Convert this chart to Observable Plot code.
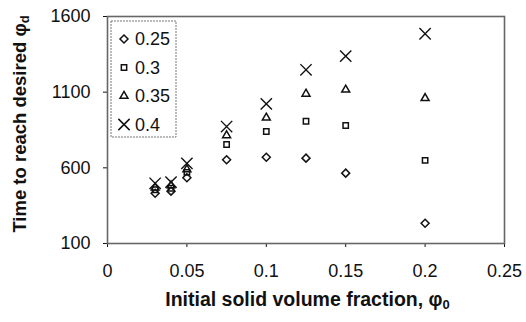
<!DOCTYPE html>
<html>
<head>
<meta charset="utf-8">
<script src="https://cdn.jsdelivr.net/npm/d3@7"></script>
<script src="https://cdn.jsdelivr.net/npm/@observablehq/plot@0.6"></script>
<style>
  html, body { margin: 0; padding: 0; background: #fff; }
  svg { font-family: "Liberation Sans", Arial, sans-serif; }
</style>
</head>
<body>
<div id="chart"></div>
<script>
// Data
const phi0 = [0.03, 0.04, 0.05, 0.075, 0.1, 0.125, 0.15, 0.2];
const seriesNames = ["0.25", "0.3", "0.35", "0.4"];
const s025 = [432, 446, 535, 653, 670, 664, 565, 234];
const s03  = [455, 465, 570, 754, 840, 908, 880, 649];
const s035 = [468, 483, 590, 814, 931, 1089, 1116, 1060];
const s04  = [498, 505, 630, 873, 1023, 1248, 1338, 1486];
const xTicks = [0, 0.05, 0.1, 0.15, 0.2, 0.25];
const yTicks = [100, 600, 1100, 1600];

const allSeries = [s025, s03, s035, s04];
const symbols = ["diamond2", "square2", "triangle2", "times"];
const radii = [3.6, 3.4, 3.8, 5.2];

const rows = [];
allSeries.forEach((vals, si) => vals.forEach((v, i) => rows.push({x: phi0[i], y: v, s: seriesNames[si]})));

const W = 526, H = 322;
const mL = 107, mR = 22, mT = 16, mB = 79;

const plot = Plot.plot({
  width: W, height: H,
  marginLeft: mL, marginRight: mR, marginTop: mT, marginBottom: mB,
  style: {fontFamily: "Liberation Sans, Arial, sans-serif", fontSize: "18px", color: "#111", background: "#fff"},
  x: {domain: [0, 0.25], ticks: xTicks, tickFormat: d => String(d), tickSize: 4, tickPadding: 17, label: null},
  y: {domain: [100, 1600], ticks: yTicks, tickFormat: d => String(d), tickSize: 4, tickPadding: 13, label: null},
  symbol: {domain: seriesNames, range: symbols},
  marks: [
    Plot.frame({stroke: "#666", strokeWidth: 1.6}),
    ...seriesNames.map((name, si) =>
      Plot.dot(rows.filter(d => d.s === name), {
        x: "x", y: "y", symbol: "s", r: radii[si],
        stroke: "#111", strokeWidth: si === 3 ? 1.4 : 1.5, fill: "none"
      })
    )
  ]
});

document.getElementById("chart").appendChild(plot);

// Titles and legend added to the same SVG
const svg = d3.select(plot);

// X-axis title
const xt = svg.append("text")
  .attr("x", (mL + (W - mR)) / 2 + 2)
  .attr("y", 306)
  .attr("text-anchor", "middle")
  .attr("font-size", 19.5)
  .attr("font-weight", "bold")
  .attr("fill", "#111");
xt.append("tspan").text("Initial solid volume fraction, φ");
xt.append("tspan").attr("font-size", 13).attr("dy", 3).text("0");

// Y-axis title
const yt = svg.append("text")
  .attr("transform", `translate(26, ${124}) rotate(-90)`)
  .attr("text-anchor", "middle")
  .attr("font-size", 18.5)
  .attr("font-weight", "bold")
  .attr("fill", "#111");
yt.append("tspan").text("Time to reach desired φ");
yt.append("tspan").attr("font-size", 13).attr("dy", 3).text("d");

// Legend box
const lg = svg.append("g").attr("text-anchor", "start");
lg.append("rect")
  .attr("x", 111).attr("y", 21).attr("width", 65).attr("height", 116)
  .attr("fill", "#fff").attr("stroke", "#777").attr("stroke-width", 1)
  .attr("stroke-dasharray", "2,1");
const symbolTypes = [d3.symbolDiamond2, d3.symbolSquare2, d3.symbolTriangle2, d3.symbolTimes];
seriesNames.forEach((name, i) => {
  const cy = 39 + i * 28.5;
  const r = radii[i];
  lg.append("path")
    .attr("transform", `translate(124, ${cy})`)
    .attr("d", d3.symbol(symbolTypes[i], Math.PI * r * r)())
    .attr("fill", "none").attr("stroke", "#111").attr("stroke-width", 1.5);
  lg.append("text")
    .attr("x", 135).attr("y", cy).attr("dy", "0.36em")
    .attr("text-anchor", "start")
    .attr("font-size", 18).attr("fill", "#111")
    .text(name);
});
</script>
</body>
</html>
